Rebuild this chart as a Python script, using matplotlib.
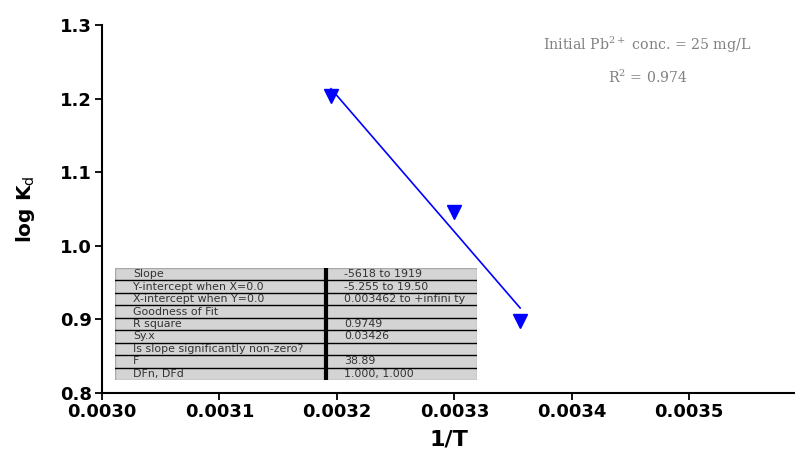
import numpy as np
import matplotlib
matplotlib.use("Agg")
import matplotlib.pyplot as plt
from matplotlib.patches import Rectangle

# data
inv_T = [0.003195, 0.003300, 0.003356]
log_kd = [1.204, 1.046, 0.898]

x_ticks = [0.0030, 0.0031, 0.0032, 0.0033, 0.0034, 0.0035]
y_ticks = [0.8, 0.9, 1.0, 1.1, 1.2, 1.3]

table_labels = ["Slope", "Y-intercept when X=0.0", "X-intercept when Y=0.0",
                "Goodness of Fit", "R square", "Sy.x",
                "Is slope significantly non-zero?", "F", "DFn, DFd"]
table_values = ["-5618 to 1919", "-5.255 to 19.50", "0.003462 to +infini ty",
                "", "0.9749", "0.03426", "", "38.89", "1.000, 1.000"]

W, H = 795, 453
plt.rcParams["font.family"] = "DejaVu Sans"
plt.rcParams["mathtext.fontset"] = "custom"
plt.rcParams["mathtext.rm"] = "DejaVu Sans"
plt.rcParams["mathtext.bf"] = "DejaVu Sans:bold"

fig = plt.figure(figsize=(W / 100, H / 100), dpi=100)


def fx(px):
    return px / W


def fy(py):
    return 1 - py / H


ax = fig.add_axes([fx(102), fy(393), fx(795 - 102), (393 - 25) / H])

ax.plot(inv_T, log_kd, linestyle="none", marker="v", markersize=10.5,
        color="#0000ff", markeredgecolor="#0000ff")
coef = np.polyfit(inv_T, log_kd, 1)
xs = np.array([min(inv_T), max(inv_T)])
ax.plot(xs, np.polyval(coef, xs), color="#0000ff", linewidth=1.2)

ax.set_xlim(0.0030, 0.00359)
ax.set_ylim(0.8, 1.3)
ax.set_xticks(x_ticks)
ax.set_xticklabels([f"{v:.4f}" for v in x_ticks])
ax.set_yticks(y_ticks)
ax.set_yticklabels([f"{v:.1f}" for v in y_ticks])
for s in ["top", "right"]:
    ax.spines[s].set_visible(False)
for s in ["left", "bottom"]:
    ax.spines[s].set_linewidth(1.5)
ax.tick_params(length=5, width=1.3, labelsize=13, pad=2)
for lab in ax.get_xticklabels() + ax.get_yticklabels():
    lab.set_fontweight("bold")

ax.set_xlabel("1/T", fontsize=16, fontweight="bold", labelpad=6)
ax.set_ylabel(r"log K$_{\mathrm{d}}$", fontsize=14.5, fontweight="bold",
              labelpad=17)

fig.text(fx(647), fy(45), r"Initial Pb$^{2+}$ conc. = 25 mg/L",
         family="DejaVu Serif", math_fontfamily="dejavuserif",
         fontsize=10.2, color="#808080", ha="center", va="center")
fig.text(fx(648), fy(77), r"R$^{2}$ = 0.974",
         family="DejaVu Serif", math_fontfamily="dejavuserif",
         fontsize=10.2, color="#808080", ha="center", va="center")

# results table
tl, tr, tt, tb = 115, 477, 268, 380
tax = fig.add_axes([fx(tl), fy(tb), fx(tr - tl), (tb - tt) / H])
tax.set_xlim(tl, tr)
tax.set_ylim(tb, tt)
tax.axis("off")
tax.add_patch(Rectangle((tl, tt), tr - tl, tb - tt, facecolor="#d4d4d4",
                        edgecolor="#a8a8a8", linewidth=1))
n = len(table_labels)
rh = (tb - tt) / n
for i, (lab, val) in enumerate(zip(table_labels, table_values)):
    yc = tt + rh * (i + 0.5)
    tax.text(133, yc, lab, fontsize=7.9, color="#333333", va="center")
    tax.text(344, yc, val, fontsize=7.9, color="#333333", va="center")
    if i < n - 1:
        tax.plot([tl, tr], [tt + rh * (i + 1)] * 2, color="black", linewidth=1.0)
tax.plot([326, 326], [tt, tb], color="black", linewidth=3)

fig.savefig("out.png", dpi=100)
